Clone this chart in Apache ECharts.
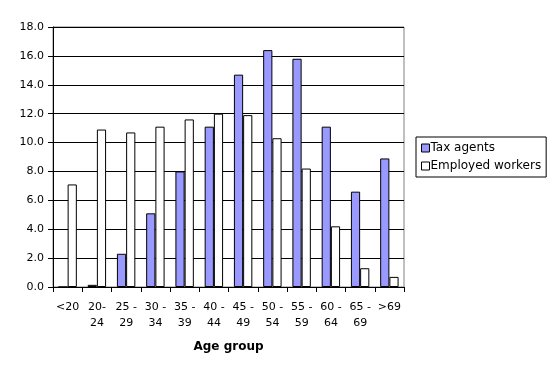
<!DOCTYPE html>
<html>
<head>
<meta charset="utf-8">
<script src="https://cdn.jsdelivr.net/npm/echarts@6/dist/echarts.min.js"></script>
<style>html,body{margin:0;padding:0;background:#fff}#c{width:555px;height:374px}</style>
</head>
<body>
<div id="c"></div>
<script>
var categories = ['<20', '20-\n24', '25 -\n29', '30 -\n34', '35 -\n39', '40 -\n44', '45 -\n49', '50 -\n54', '55 -\n59', '60 -\n64', '65 -\n69', '>69'];
var taxAgents = [0, 0.15, 2.3, 5.1, 8.0, 11.1, 14.7, 16.4, 15.8, 11.1, 6.6, 8.9];
var employedWorkers = [7.1, 10.9, 10.7, 11.1, 11.6, 12.0, 11.9, 10.3, 8.2, 4.2, 1.3, 0.7];
var yTicks = [0, 2, 4, 6, 8, 10, 12, 14, 16, 18];

var chart = echarts.init(document.getElementById('c'), null, {renderer: 'canvas'});
var font = '"DejaVu Sans", sans-serif';
chart.setOption({
  animation: false,
  backgroundColor: '#fff',
  grid: {left: 53, right: 151, top: 27, bottom: 87, show: true, borderColor: '#808080', borderWidth: 1},
  legend: {
    orient: 'vertical', left: 416, top: 137,
    itemWidth: 8, itemHeight: 8, itemGap: 6,
    padding: [5, 5, 5, 5],
    borderColor: '#000', borderWidth: 1,
    icon: 'rect',
    itemStyle: {borderWidth: 1, borderColor: '#000'},
    textStyle: {fontFamily: font, fontSize: 12, color: '#000', padding: [0, 0, 0, -4]},
    data: ['Tax agents', 'Employed workers']
  },
  xAxis: {
    type: 'category', data: categories,
    axisLine: {lineStyle: {color: '#000'}},
    axisTick: {show: true, length: 5, lineStyle: {color: '#000'}},
    axisLabel: {interval: 0, fontFamily: font, fontSize: 11, color: '#000', lineHeight: 16, margin: 12},
    name: 'Age group', nameLocation: 'middle', nameGap: 54,
    nameTextStyle: {fontFamily: font, fontSize: 12, fontWeight: 'bold', color: '#000'}
  },
  yAxis: {
    type: 'value', min: yTicks[0], max: yTicks[yTicks.length - 1], interval: 2,
    axisLine: {show: true, lineStyle: {color: '#000'}},
    axisTick: {show: true, length: 5, lineStyle: {color: '#000'}},
    axisLabel: {fontFamily: font, fontSize: 11, color: '#000', margin: 9, formatter: function (v) { return v.toFixed(1); }},
    splitLine: {show: true, lineStyle: {color: '#000', width: 1}}
  },
  series: [
    {name: 'Tax agents', type: 'bar', data: taxAgents, barGap: '0%', barCategoryGap: '37%',
     itemStyle: {color: '#9999ff', borderColor: '#000', borderWidth: 1}},
    {name: 'Employed workers', type: 'bar', data: employedWorkers, barGap: '0%', barCategoryGap: '37%',
     itemStyle: {color: '#ffffff', borderColor: '#000', borderWidth: 1}}
  ]
});
</script>
</body>
</html>
